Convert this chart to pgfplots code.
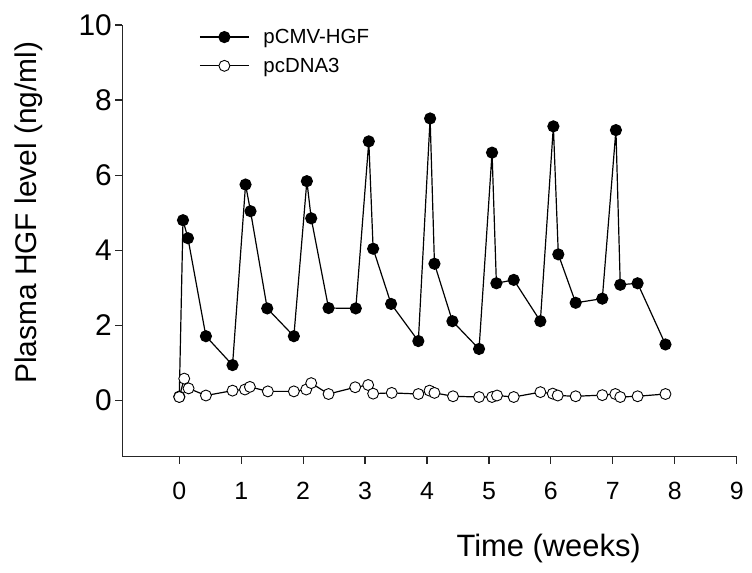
\documentclass[border=0pt]{standalone}
\usepackage{pgfplots}
\pgfplotsset{compat=1.18}
\usepackage{fontspec}
\setmainfont{Liberation Sans}

\pgfplotstableread{
x y
0.00 0.10
0.06 4.80
0.14 4.32
0.43 1.71
0.86 0.94
1.07 5.75
1.15 5.04
1.42 2.45
1.85 1.71
2.06 5.84
2.13 4.85
2.41 2.46
2.85 2.45
3.06 6.90
3.13 4.04
3.42 2.57
3.86 1.58
4.05 7.51
4.12 3.64
4.41 2.11
4.84 1.37
5.05 6.60
5.12 3.12
5.40 3.21
5.83 2.11
6.04 7.30
6.12 3.89
6.40 2.60
6.83 2.71
7.05 7.20
7.12 3.08
7.40 3.12
7.85 1.49
}\hgf

\pgfplotstableread{
x y
0.00 0.09
0.08 0.58
0.15 0.32
0.43 0.13
0.86 0.26
1.06 0.29
1.14 0.36
1.43 0.24
1.85 0.24
2.05 0.29
2.13 0.46
2.41 0.17
2.84 0.35
3.05 0.41
3.13 0.18
3.43 0.20
3.86 0.17
4.04 0.26
4.12 0.20
4.42 0.11
4.84 0.09
5.05 0.09
5.13 0.13
5.40 0.09
5.83 0.22
6.03 0.18
6.11 0.13
6.40 0.11
6.83 0.14
7.04 0.17
7.12 0.09
7.40 0.11
7.85 0.17
}\pcdna

\begin{document}
\begin{tikzpicture}
\begin{axis}[
  scale only axis, width=614.4bp, height=431.7bp,
  xmin=-0.92, xmax=9, ymin=-1.5, ymax=10,
  axis x line*=bottom, axis y line*=left,
  axis line style={line width=1.3bp, black!85},
  xtick={0,...,9}, ytick={0,2,...,10},
  tick align=outside, major tick length=7bp,
  tick style={line width=1.2bp, black!85},
  /pgf/number format/assume math mode=true,
  xticklabel style={font=\fontsize{25}{25}\selectfont, yshift=-15bp},
  yticklabel style={font=\fontsize{30}{30}\selectfont},
  xlabel={Time (weeks)},
  ylabel={Plasma HGF level (ng/ml)},
  xlabel style={at={(axis description cs:0.694,-0.2115)}, anchor=center, font=\fontsize{31}{31}\selectfont},
  ylabel style={at={(axis description cs:-0.152,0.565)}, anchor=center, font=\fontsize{30}{30}\selectfont},
  clip=false,
  legend cell align=left,
  legend style={draw=none, fill=none, at={(axis description cs:0.125,1.0)}, anchor=north west,
    font=\fontsize{20.5}{20.5}\selectfont, row sep=5bp, inner sep=0pt,
    nodes={inner sep=4bp},
    /tikz/every odd column/.append style={column sep=10bp}},
  legend image code/.code={\draw[mark repeat=2,mark phase=2] plot coordinates {(0bp,0bp) (24.5bp,0bp) (49bp,0bp)};},
]
\addplot[black, line width=1.2bp, mark=*, mark size=5.5pt, mark options={fill=black, solid}] table[x=x,y=y] {\hgf};
\addlegendentry{pCMV-HGF}
\addplot[black, line width=1.2bp, mark=*, mark size=5.5pt, mark options={fill=white, draw=black, line width=0.9bp, solid}] table[x=x,y=y] {\pcdna};
\addlegendentry{pcDNA3}
\end{axis}
\pgfresetboundingbox
\path[use as bounding box] (-122.3bp,-116.3bp) rectangle (629.7bp,456.7bp);
\end{tikzpicture}
\end{document}
